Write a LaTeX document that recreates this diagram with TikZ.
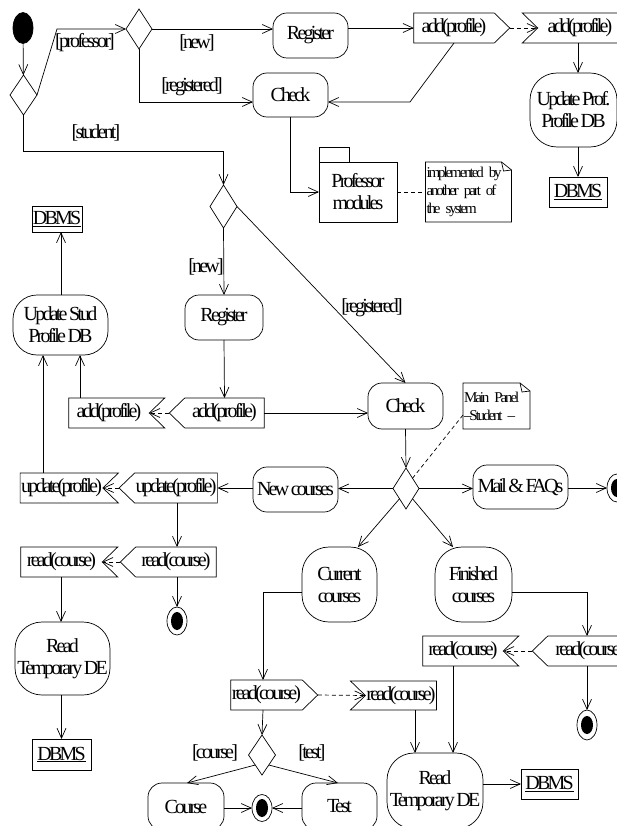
\documentclass[tikz,border=0pt]{standalone}
\usepackage{fontspec}
\setmainfont{Liberation Serif}[LetterSpace=-14,WordSpace=0.7]
\usetikzlibrary{arrows.meta,shapes.geometric,shapes.symbols,calc}

\begin{document}
\begin{tikzpicture}[x=1pt,y=-1pt,line width=0.7pt,
  >={Straight Barb[length=10pt,width=9pt]},
  every node/.style={font=\fontsize{20}{22}\selectfont, inner sep=1pt, outer sep=0pt},
  act/.style={draw, rounded corners=14pt, align=center},
  bigact/.style={draw, rounded corners=27pt, align=center},
  dec/.style={draw, diamond, inner sep=0pt, minimum width=27pt, minimum height=41pt},
  sendR/.style={draw, signal, signal to=east, signal pointer angle=88, minimum height=30pt},
  sendL/.style={draw, signal, signal to=west, signal pointer angle=88, minimum height=30pt},
  recvL/.style={draw, signal, signal from=west, signal to=nowhere, signal pointer angle=88, minimum height=30pt},
  recvR/.style={draw, signal, signal from=east, signal to=nowhere, signal pointer angle=88, minimum height=30pt},
  obj/.style={draw, rectangle},
  final/.style={draw, ellipse, inner sep=0pt, minimum width=20pt, minimum height=28pt,
     path picture={\fill (path picture bounding box.center) ellipse [x radius=6pt, y radius=9pt];}},
  startnode/.style={draw, fill=black, ellipse, inner sep=0pt, minimum width=20pt, minimum height=31pt},
  lbl/.style={},
  notebox/.style={align=left, font=\fontsize{15}{18}\selectfont, inner sep=1pt},
  dsh/.style={dash pattern=on 4pt off 3pt}
]
\useasboundingbox (0,0) rectangle (617,826);
\clip (0,0) rectangle (617,826);

% ---------- professor part ----------
\node[startnode] (start) at (23,28) {};
\node[dec, minimum height=40pt] (d1) at (23.5,95) {};
\node[dec, minimum width=26pt, minimum height=40pt] (d2) at (139,29) {};
\node[act, minimum width=75pt, minimum height=45pt] (reg1) at (310.5,35.5) {Register};
\node[sendR, minimum width=96pt] (s1) at (454,28) {add(profile)};
\node[recvL, minimum width=100pt] (r1) at (580,28) {add(profile)};
\node[bigact, minimum width=87pt, minimum height=74pt] (upd1) at (573.5,110) {Update Prof.\\Profile DB};
\node[obj, minimum width=58pt, minimum height=30pt] (db1) at (578,192) {\underline{DBMS}};
\node[act, minimum width=75pt, minimum height=44pt] (chk1) at (290.5,95) {Check};
\node[draw, align=center, minimum width=78pt, minimum height=60pt] (pkg) at (358,192) {Professor\\modules};
\draw (pkg.north west) rectangle ++(30,-15);
\node[notebox, text width=84pt, minimum height=60pt] (n1) at (468.5,192) {implemented by\\another part of\\the system};
\draw (n1.north west) -- ([xshift=-10pt]n1.north east) -- ([yshift=-8pt]n1.north east) -- (n1.south east) -- (n1.south west) -- cycle;
\draw ([xshift=-10pt]n1.north east) -- ([xshift=-8pt,yshift=-9pt]n1.north east) -- ([yshift=-8pt]n1.north east);

\coordinate (b2) at (57,29);
\coordinate (b1) at (410,102);
\draw[->] (start) -- (d1);
\draw[->] (d1.east) -- (b2) -- (d2.west);
\draw[->] (d2.east) -- (d2.east -| reg1.west);
\draw[->] (reg1.east |- s1.west) -- (s1.west);
\draw[->,dsh] (s1.east) -- (r1.west);
\draw[->] (s1.south) -- (b1) -- (chk1.east |- b1);
\draw[->] (d2.south) |- (chk1.west |- b1);
\draw[->] (chk1.south) |- (pkg.west);
\draw[dsh] (pkg.east) -- (n1.west);
\draw[->] (db1.north |- r1.south) -- (db1.north |- upd1.north);
\draw[->] (db1.north |- upd1.south) -- (db1.north);

\node[lbl] at (85,43) {[professor]};
\node[lbl] at (197,43) {[new]};
\node[lbl] at (192,87) {[registered]};
\node[lbl] at (96,133) {[student]};

% ---------- student part ----------
\node[dec, minimum height=43pt] (d3) at (223.5,206.5) {};
\coordinate (b3) at (223.5,151);
\draw[->] (d1.south) |- (b3) -- (d3.north);
\node[act, minimum width=78pt, minimum height=45pt] (reg2) at (224,317.5) {Register};
\draw[->] (d3.south) -- (reg2.north);
\node[lbl] at (206,267) {[new]};
\node[sendL, minimum width=95pt] (s2) at (224.5,413) {add(profile)};
\draw[->] (reg2.south) -- (s2.north);
\node[recvR, minimum width=96pt] (r2) at (109,413) {add(profile)};
\draw[->,dsh] (s2.west) -- (r2.east);
\node[bigact, rounded corners=24pt, minimum width=95pt, minimum height=60pt] (upd2) at (60.5,325) {Update Stud\\Profile DB};
\draw[->] (r2.north -| 80,0) -- (upd2.south -| 80,0);
\node[obj, minimum width=50pt, minimum height=26pt] (db2) at (57,219) {\underline{DBMS}};
\draw[->] (upd2.north -| 61,0) -- (db2.south -| 61,0);
\node[act, minimum width=75pt, minimum height=46pt] (chk2) at (405.5,406) {Check};
\draw[->] (s2.east) -- (s2.east -| chk2.west);
\draw[->] (d3.east) -- (chk2.north);
\node[lbl] at (372,308) {[registered]};
\node[notebox, text width=65pt, minimum height=46pt] (n2) at (496.5,406) {Main Panel\\–Student –};
\draw (n2.north west) -- ([xshift=-10pt]n2.north east) -- ([yshift=-8pt]n2.north east) -- (n2.south east) -- (n2.south west) -- cycle;
\draw ([xshift=-10pt]n2.north east) -- ([xshift=-8pt,yshift=-9pt]n2.north east) -- ([yshift=-8pt]n2.north east);

\node[dec, minimum width=26pt] (d4) at (406,488.5) {};
\draw[->] (chk2.south) -- (d4.north);
\draw[dsh] ($(n2.west)+(0,9)$) -- (d4.north east);
\node[act, minimum width=85pt, minimum height=45pt] (newc) at (295.5,489.5) {New courses};
\draw[->] (d4.west) -- (d4.west -| newc.east);
\node[act, minimum width=95pt, minimum height=44pt] (mail) at (520.5,487) {Mail \& FAQs};
\draw[->] (d4.east) -- (d4.east -| mail.west);
\node[final] (f1) at (617,488) {};
\draw[->] (mail.east |- f1.west) -- (f1.west);

\node[bigact, minimum width=75pt, minimum height=75pt] (curc) at (339.5,584.5) {Current\\courses};
\node[bigact, minimum width=77pt, minimum height=75pt] (finc) at (473.5,584.5) {Finished\\courses};
\draw[->] (d4.south west) -- ($(curc.north)+(18.5,0)$);
\draw[->] (d4.south east) -- ($(finc.north)+(-20.5,0)$);

\node[sendL, minimum width=100pt] (s3) at (590,651) {read(course)};
\coordinate (b4) at (587,592);
\draw[->] ($(finc.east)+(0,7.5)$) -- (b4) -- (b4 |- s3.north);
\node[final, minimum height=30pt] (f2) at (587,725) {};
\draw[->] (b4 |- s3.south) -- (f2.north);
\node[recvR, minimum width=96pt] (r3) at (463,651) {read(course)};
\draw[->,dsh] (s3.west) -- (r3.east);
\node[bigact, minimum width=96pt, minimum height=76pt] (rtd2) at (435,791) {Read\\Temporary DE};
\draw[->] (r3.south -| 453,0) -- (rtd2.north -| 453,0);
\node[recvL, minimum width=86pt, minimum height=29pt] (r4) at (401,695.5) {read(course)};
\draw[->] (r4.south -| 415,0) -- (rtd2.north -| 415,0);
\node[sendR, minimum width=87pt] (s4) at (266.5,695) {read(course)};
\draw[->,dsh] (s4.east) -- (r4.west);
\coordinate (b5) at (263,592);
\draw[->] ($(curc.west)+(0,7.5)$) -- (b5) -- (b5 |- s4.north);
\node[dec, minimum height=40pt] (d5) at (262,755) {};
\draw[->] (b5 |- s4.south) -- (d5.north);
\node[lbl] at (215,753) {[course]};
\node[lbl] at (312,753) {[test]};
\node[act, minimum width=76pt, minimum height=47pt] (course) at (186,806.5) {Course};
\node[act, minimum width=75pt, minimum height=47pt] (test) at (339.5,806.5) {Test};
\node[final, minimum height=27pt] (f3) at (262,808) {};
\draw[->] (d5.south west) -- ($(course.north)+(1,0)$);
\draw[->] (d5.south east) -- ($(test.north)+(-1.5,0)$);
\draw[->] (course.east |- f3.west) -- (f3.west);
\draw[->] (test.west |- f3.east) -- (f3.east);
\node[obj, minimum width=57pt, minimum height=30pt] (db3) at (549.5,784) {\underline{DBMS}};
\draw[->] (rtd2.east |- db3.west) -- (db3.west);

% ---------- left column ----------
\node[recvR, minimum width=97pt] (r6) at (61.5,488) {update(profile)};
\node[sendL, minimum width=96pt] (s6) at (176,488) {update(profile)};
\draw[->] (s6.east -| newc.west) -- (s6.east);
\draw[->,dsh] (s6.west) -- (r6.east);
\draw[->] (r6.north -| 43,0) -- (upd2.south -| 43,0);
\node[sendL, minimum width=96pt] (s5) at (176,562) {read(course)};
\node[recvR, minimum width=97pt] (r5) at (61.5,562) {read(course)};
\draw[->] (s6.south -| 177,0) -- (s5.north -| 177,0);
\draw[->,dsh] (s5.west) -- (r5.east);
\node[final] (f4) at (177,621) {};
\draw[->] (s5.south -| f4.north) -- (f4.north);
\node[bigact, minimum width=95pt, minimum height=73pt] (rtd1) at (62.5,658.5) {Read\\Temporary DE};
\draw[->] (r5.south -| 61,0) -- (rtd1.north -| 61,0);
\node[obj, minimum width=59pt, minimum height=31pt] (db4) at (61.5,754.5) {\underline{DBMS}};
\draw[->] (rtd1.south -| db4.north) -- (db4.north);
\end{tikzpicture}
\end{document}
